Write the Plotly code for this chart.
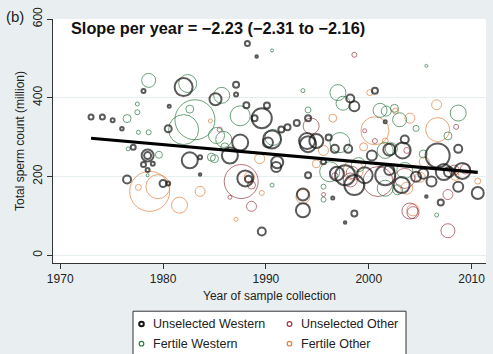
import plotly.graph_objects as go

# ---------------- data (year, total sperm count, bubble weight) ----------------
uw_year = [1973.0, 1974.1, 1975.1, 1976.0, 1978.1, 1980.6, 1980.5, 1982.0, 1985.1, 1987.1,
           1987.1, 1988.2, 1989.1, 1988.1, 1987.5, 1989.6, 1988.9, 1990.1, 1991.5, 1992.1,
           1993.0, 1994.1, 1990.6, 1990.2, 1994.0, 1994.9, 1996.1, 1998.2, 1998.6, 2000.6,
           2001.6, 2003.5, 1977.1, 1978.5, 1978.5, 1978.1, 1979.0, 1978.5, 1976.5, 1980.0,
           1980.5, 1982.6, 1983.6, 1986.5, 1983.6, 1988.0, 1988.3, 1989.6, 1991.0, 1991.1,
           1994.1, 1993.6, 1993.6, 1996.5, 1996.7, 1994.1, 1995.6, 1998.0, 1996.9, 1997.7,
           1998.6, 1999.6, 2000.3, 2003.3, 2001.6, 2002.0, 2003.2, 2004.6, 2005.3, 2006.1,
           2006.7, 2007.3, 2007.8, 2009.1, 2008.7, 2008.7, 2010.6, 2007.0, 2005.6, 1998.6,
           1997.7, 2002.0]
uw_count = [351, 351, 343, 321, 417, 378, 321, 427, 396, 433,
            408, 538, 505, 381, 286, 348, 348, 380, 319, 325,
            336, 348, 294, 286, 290, 290, 299, 398, 378, 418,
            339, 294, 274, 253, 253, 230, 232, 216, 192, 182,
            182, 241, 249, 253, 205, 195, 193, 60, 224, 236,
            203, 154, 114, 145, 270, 282, 237, 270, 207, 203,
            178, 203, 253, 266, 203, 216, 178, 199, 207, 187,
            253, 211, 211, 214, 270, 174, 158, 134, 149, 106,
            83, 268]
uw_weight = [5, 5, 4, 3.5, 4, 3, 7, 18, 12, 6,
             4, 5, 2.5, 6, 16, 20, 6, 6, 6, 6,
             6, 6, 18, 10, 16, 14, 6, 8, 10, 6,
             3, 8, 5, 12, 7, 5, 4, 4, 8, 7,
             4, 16, 4, 16, 2.5, 16, 7, 8, 10, 12,
             6, 12, 14, 3, 8, 16, 5, 8, 14, 20,
             20, 16, 10, 16, 20, 10, 16, 10, 10, 10,
             24, 16, 10, 16, 8, 10, 12, 6, 2.5, 6,
             2.5, 12]

fw_year = [1976.5, 1977.5, 1977.5, 1977.6, 1978.6, 1978.6, 1982.4, 1983.1, 1982.0, 1982.6,
           1985.7, 1987.5, 1985.2, 1990.6, 1993.6, 1997.0, 1997.5, 2001.1, 2001.7, 2002.5,
           2003.0, 2008.7, 1990.7, 1997.2, 1994.1, 2005.6, 1976.6, 1979.6, 1978.5, 1984.7,
           1985.0, 1990.6, 1995.6, 1995.6, 1996.2, 2001.6, 2002.2, 2001.6, 2002.8, 2006.6,
           2007.7, 2004.6, 1985.9, 2003.5, 1999.0, 2005.3, 1986.0]
fw_count = [347, 363, 384, 312, 312, 444, 436, 344, 319, 371,
            406, 354, 304, 520, 418, 413, 386, 368, 366, 373,
            344, 361, 299, 286, 369, 481, 270, 255, 203, 249,
            245, 178, 174, 141, 212, 266, 270, 170, 166, 102,
            303, 322, 294, 215, 230, 257, 275]
fw_weight = [8, 5, 4, 4, 5, 14, 18, 40, 30, 8,
             16, 20, 16, 3, 4, 16, 14, 14, 10, 8,
             14, 16, 16, 20, 6, 3, 4, 7, 3, 8,
             8, 4, 5, 5, 20, 16, 12, 16, 10, 4,
             8, 6, 16, 16, 14, 8, 8]

uo_year = [1985.5, 1998.6, 1994.4, 1999.6, 2008.5, 1987.6, 1988.6, 1986.5, 1988.6, 1995.6,
           1998.2, 1998.4, 2000.9, 2003.5, 2003.7, 2007.7, 2004.0, 2004.3, 2007.7, 2008.3,
           2009.4, 1996.7, 2000.6]
uo_count = [319, 509, 328, 316, 326, 187, 178, 147, 124, 154,
            191, 210, 187, 195, 266, 154, 112, 108, 62, 216,
            219, 202, 290]
uo_weight = [5, 5, 16, 4, 5, 34, 8, 4, 10, 4,
             14, 12, 30, 20, 6, 10, 16, 12, 14, 10,
             10, 6, 5]

fo_year = [1984.6, 2000.1, 2004.0, 2006.6, 2006.7, 2000.6, 2002.6, 1996.5, 1978.7, 1979.5,
           1977.6, 1981.6, 1983.6, 1988.4, 1987.1, 1989.6, 1989.4, 1994.9, 1995.6, 1993.6,
           1998.5, 2003.7, 2005.0, 2005.4, 2008.4, 2010.6, 2004.3, 2001.6, 1999.5]
fo_count = [341, 413, 348, 382, 319, 316, 366, 348, 162, 174,
            172, 127, 162, 199, 91, 158, 245, 232, 266, 149,
            216, 170, 198, 237, 200, 188, 115, 290, 275]
fo_weight = [4, 6, 10, 10, 24, 28, 6, 8, 40, 24,
             6, 16, 10, 10, 4, 5, 10, 8, 10, 14,
             20, 12, 10, 10, 8, 6, 12, 6, 8]

fit_year = [1973.0, 2010.6]
fit_count = [297.0, 210.5]

x_ticks = [1970, 1980, 1990, 2000, 2010]
y_ticks = [0, 200, 400, 600]

series_names = ["Unselected Western", "Unselected Other", "Fertile Western", "Fertile Other"]
# --------------------------------------------------------------------------------

C_UW = "#141414"
C_UO = "#9a3a44"
C_FW = "#2f7a45"
C_FO = "#e08040"
FONT = "Liberation Sans, Arial, sans-serif"

W, H = 493, 354
ML, MR, MT, MB = 53, 7, 15, 91
PW, PH = W - ML - MR, H - MT - MB


def px_x(px):
    return (px - ML) / PW


def px_y(py):
    return 1 - (py - MT) / PH


fig = go.Figure()


def bubbles(xs, ys, ws, color, lw):
    fig.add_trace(go.Scatter(
        x=xs, y=ys, mode="markers", showlegend=False, hoverinfo="skip",
        marker=dict(symbol="circle-open", size=ws, sizemode="diameter", sizeref=1,
                    color=color, line=dict(width=lw, color=color))))


bubbles(fo_year, fo_count, fo_weight, C_FO, 1)
bubbles(uo_year, uo_count, uo_weight, C_UO, 1)
bubbles(fw_year, fw_count, fw_weight, C_FW, 1)
bubbles(uw_year, uw_count, uw_weight, C_UW, 2)

fig.add_trace(go.Scatter(x=fit_year, y=fit_count, mode="lines", showlegend=False,
                         line=dict(color="#000000", width=3.2), hoverinfo="skip"))

# ---- legend drawn as box + symbols + text (2 columns, cut by page bottom) ----
shapes = [dict(type="rect", xref="paper", yref="paper",
               x0=px_x(133), x1=px_x(406), y0=px_y(362), y1=px_y(312),
               fillcolor="#ffffff", line=dict(color="#333333", width=1), layer="above")]
annotations = []
legend_cols = [141.5, 289.5, 141.5, 289.5]
legend_rows = [325, 325, 345, 345]
legend_cols_w = [2, 1.2, 1.2, 1.2]
for name, col, lw, cx, cy in zip(series_names, [C_UW, C_UO, C_FW, C_FO], legend_cols_w,
                                 legend_cols, legend_rows):
    shapes.append(dict(type="circle", xref="paper", yref="paper",
                       xsizemode="pixel", ysizemode="pixel",
                       xanchor=px_x(cx), yanchor=px_y(cy),
                       x0=-2.3, x1=2.3, y0=-2.3, y1=2.3,
                       line=dict(color=col, width=lw), layer="above"))
    annotations.append(dict(text=name, xref="paper", yref="paper",
                            x=px_x(cx + 9), y=px_y(cy), xanchor="left", yanchor="middle",
                            showarrow=False,
                            font=dict(family=FONT, size=12.5, color="#222222")))

annotations += [
    dict(text="<b>Slope per year = \u22122.23 (\u22122.31 to \u22122.16)</b>",
         xref="paper", yref="paper", x=px_x(69), y=px_y(24), xanchor="left", yanchor="middle",
         showarrow=False, font=dict(family=FONT, size=16.3, color="#111111")),
    dict(text="(b)", xref="paper", yref="paper", x=px_x(4), y=px_y(12),
         xanchor="left", yanchor="middle", showarrow=False,
         font=dict(family=FONT, size=15, color="#222222")),
]

fig.update_layout(
    width=W, height=H,
    margin=dict(l=ML, r=MR, t=MT, b=MB),
    paper_bgcolor="#e9eff1",
    plot_bgcolor="#ffffff",
    font=dict(family=FONT, size=12, color="#222222"),
    showlegend=False,
    xaxis=dict(range=[1969.3, 2011.4], tickvals=x_ticks, ticks="outside", ticklen=5,
               tickcolor="#333333", showline=True, linecolor="#333333", linewidth=1,
               showgrid=False, zeroline=False, mirror=False,
               title=dict(text="Year of sample collection", font=dict(size=12), standoff=6),
               tickfont=dict(size=12)),
    yaxis=dict(range=[-20, 600], tickvals=y_ticks, ticks="outside", ticklen=5,
               tickcolor="#333333", showline=True, linecolor="#333333", linewidth=1,
               showgrid=True, gridcolor="#e6eef0", gridwidth=1, zeroline=False,
               tickangle=-90,
               title=dict(text="Total sperm count (million)", font=dict(size=12), standoff=4),
               tickfont=dict(size=12)),
    shapes=shapes,
    annotations=annotations,
)

fig.write_html("out.html")
